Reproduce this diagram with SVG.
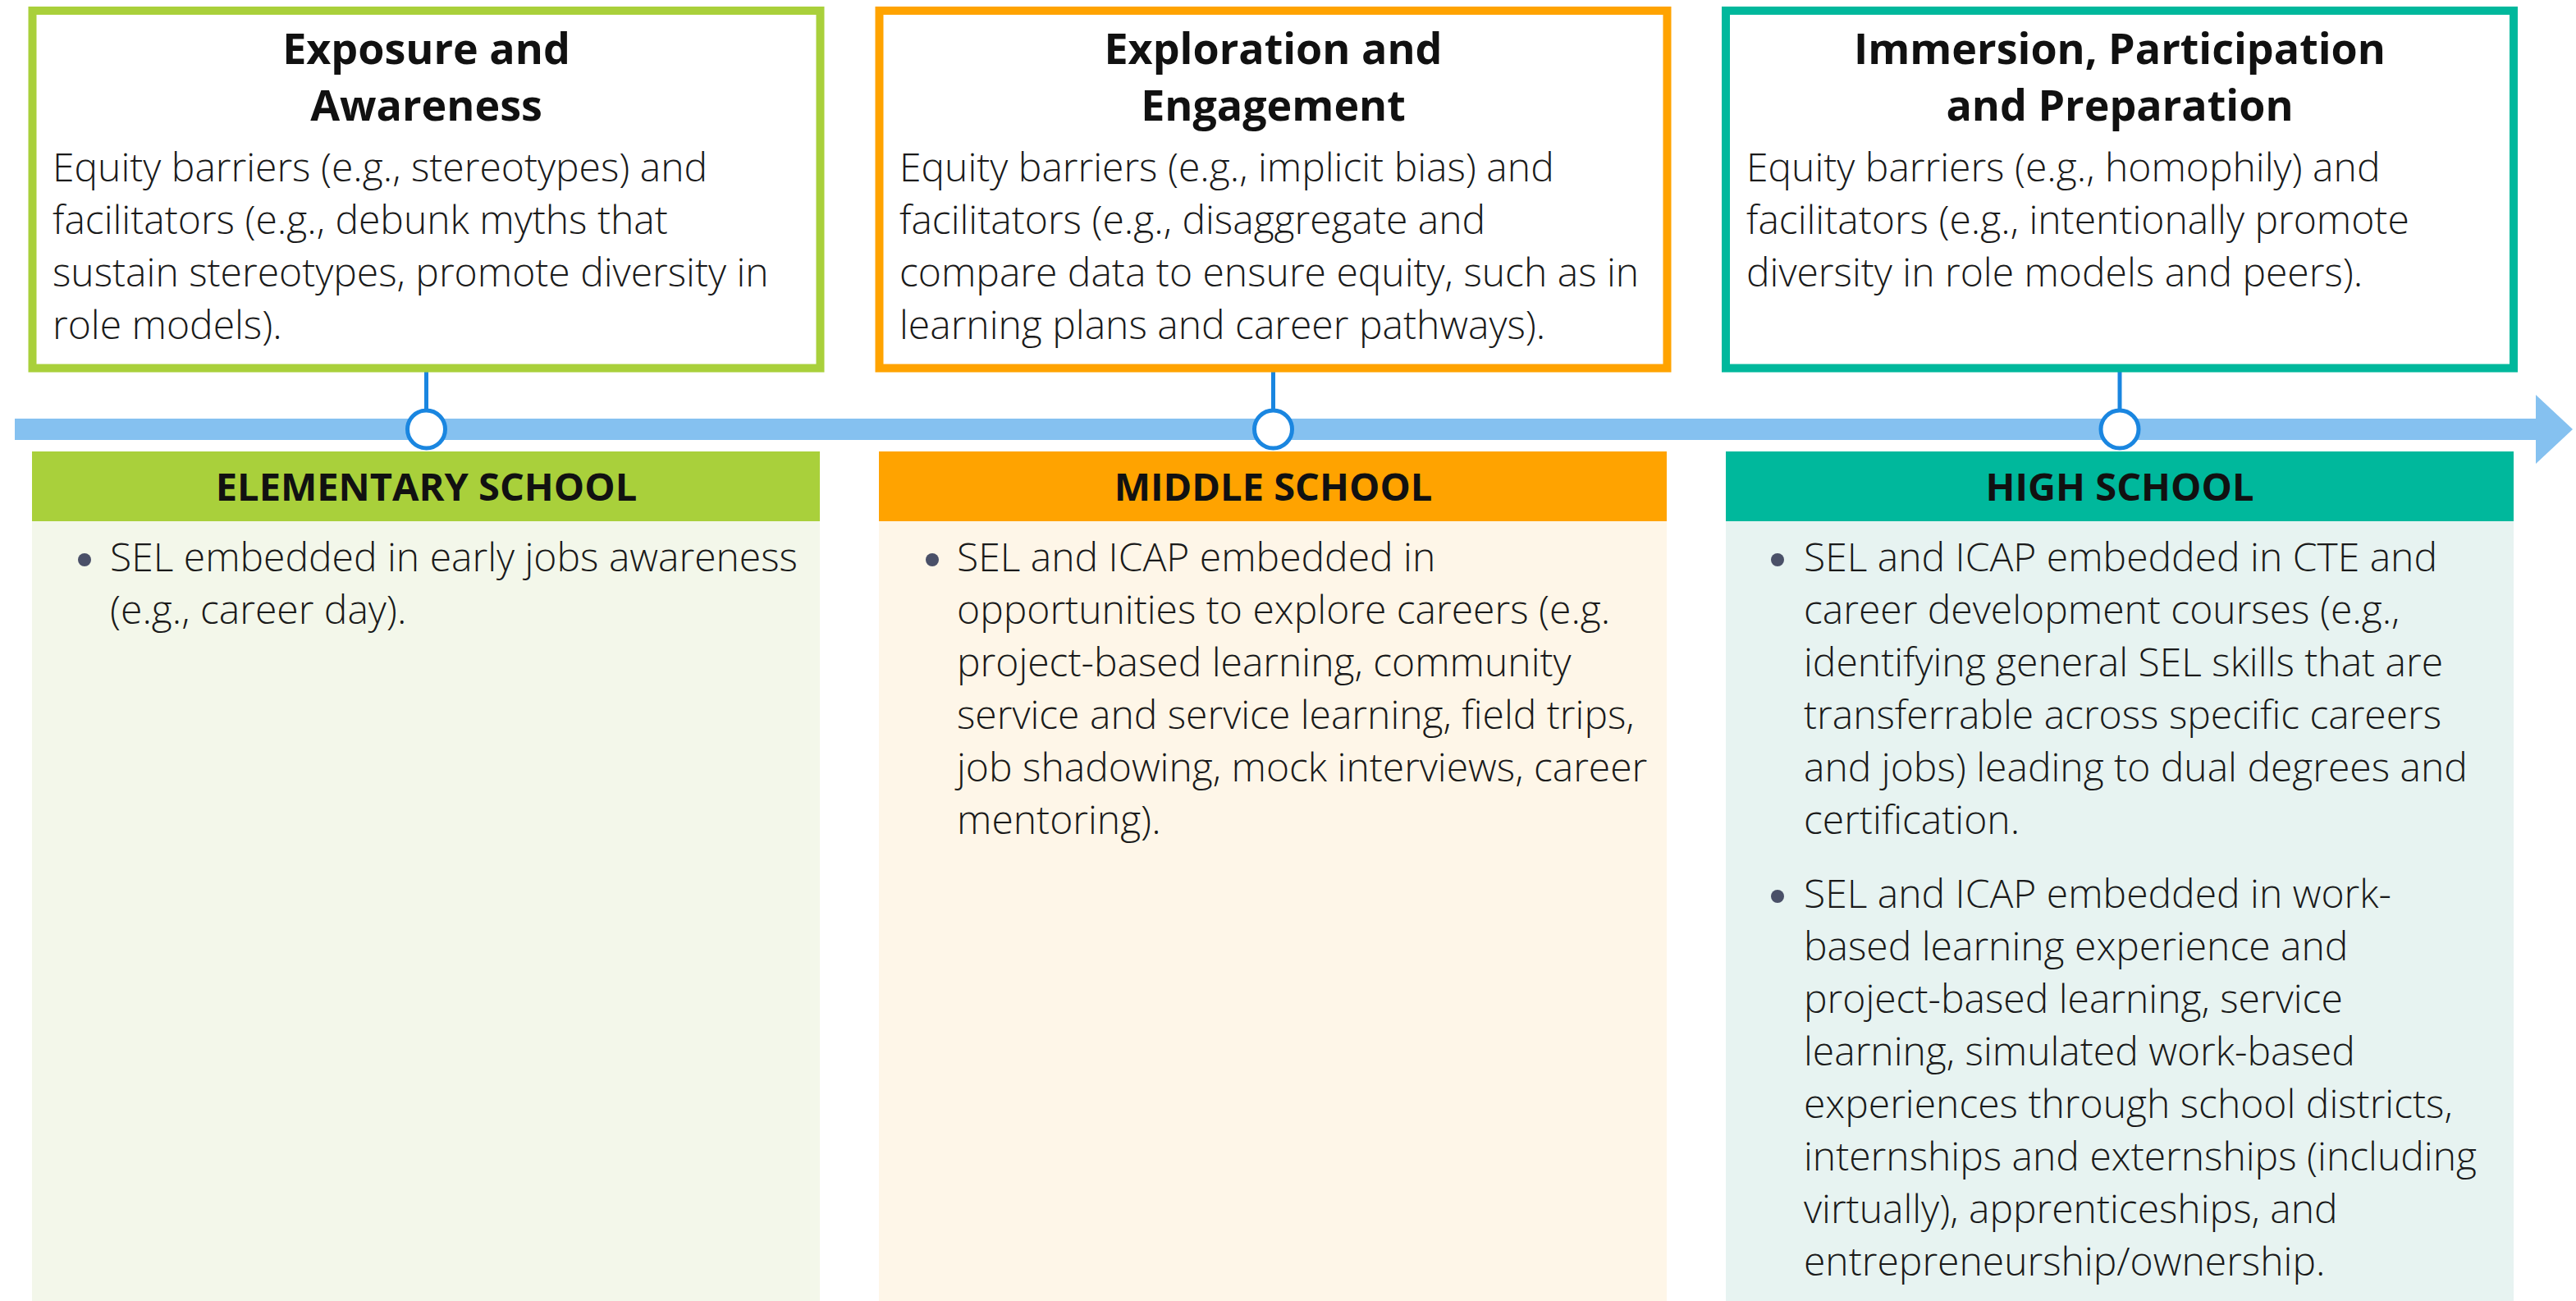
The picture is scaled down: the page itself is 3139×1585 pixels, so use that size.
<svg xmlns="http://www.w3.org/2000/svg" width="3139" height="1585" viewBox="0 0 3139 1585">
<style>
text{font-family:"Open Sans","Noto Sans","Liberation Sans",sans-serif;}
.title{font-size:52px;font-weight:700;fill:#111;text-anchor:middle;}
.body{font-size:48px;font-weight:300;fill:#1a1a1a;}
.hdr{font-size:47px;font-weight:700;fill:#111;text-anchor:middle;}
.box{fill:#fff;stroke-width:10;}
.conn{stroke:#1a86e0;stroke-width:5;fill:none;}
.dot{fill:#fff;stroke:#1a86e0;stroke-width:5;}
.bul{fill:#4a5068;}
</style>
<g id="timeline">
<rect x="18" y="510" width="3073" height="26" fill="#85c1f0"/>
<polygon points="3090,481 3135,523 3090,565" fill="#85c1f0"/>
</g>
<g id="connectors">
<line class="conn" x1="519.5" y1="453" x2="519.5" y2="500"/>
<line class="conn" x1="1551.5" y1="453" x2="1551.5" y2="500"/>
<line class="conn" x1="2583" y1="453" x2="2583" y2="500"/>
<circle class="dot" cx="519.5" cy="523" r="23"/>
<circle class="dot" cx="1551.5" cy="523" r="23"/>
<circle class="dot" cx="2583" cy="523" r="23"/>
</g>
<g id="box-exposure">
<rect class="box" x="39.5" y="13" width="960" height="435.5" stroke="#a9d03b"/>
<text class="title" x="519.5" y="78">Exposure and</text>
<text class="title" x="519.5" y="146.5">Awareness</text>
<text class="body" x="64" y="221">Equity barriers (e.g., stereotypes) and</text>
<text class="body" x="64" y="285">facilitators (e.g., debunk myths that</text>
<text class="body" x="64" y="349">sustain stereotypes, promote diversity in</text>
<text class="body" x="64" y="413">role models).</text>
</g>
<g id="box-exploration">
<rect class="box" x="1071.5" y="13" width="960" height="435.5" stroke="#ffa300"/>
<text class="title" x="1551.5" y="78">Exploration and</text>
<text class="title" x="1551.5" y="146.5">Engagement</text>
<text class="body" x="1096" y="221">Equity barriers (e.g., implicit bias) and</text>
<text class="body" x="1096" y="285">facilitators (e.g., disaggregate and</text>
<text class="body" x="1096" y="349">compare data to ensure equity, such as in</text>
<text class="body" x="1096" y="413">learning plans and career pathways).</text>
</g>
<g id="box-immersion">
<rect class="box" x="2103" y="13" width="960" height="435.5" stroke="#00b89c"/>
<text class="title" x="2583" y="78">Immersion, Participation</text>
<text class="title" x="2583" y="146.5">and Preparation</text>
<text class="body" x="2128" y="221">Equity barriers (e.g., homophily) and</text>
<text class="body" x="2128" y="285">facilitators (e.g., intentionally promote</text>
<text class="body" x="2128" y="349">diversity in role models and peers).</text>
</g>
<g id="col-elementary">
<rect x="39" y="550" width="960" height="1035" fill="#f3f7ea"/>
<rect x="39" y="550" width="960" height="85" fill="#a9d03b"/>
<text class="hdr" x="519.5" y="610">ELEMENTARY SCHOOL</text>
<circle class="bul" cx="103" cy="682" r="8"/>
<text class="body" x="134" y="696">SEL embedded in early jobs awareness</text>
<text class="body" x="134" y="760">(e.g., career day).</text>
</g>
<g id="col-middle">
<rect x="1071" y="550" width="960" height="1035" fill="#fef6e8"/>
<rect x="1071" y="550" width="960" height="85" fill="#ffa300"/>
<text class="hdr" x="1551.5" y="610">MIDDLE SCHOOL</text>
<circle class="bul" cx="1136" cy="682" r="8"/>
<text class="body" x="1166" y="696">SEL and ICAP embedded in</text>
<text class="body" x="1166" y="760">opportunities to explore careers (e.g.</text>
<text class="body" x="1166" y="824">project-based learning, community</text>
<text class="body" x="1166" y="888">service and service learning, field trips,</text>
<text class="body" x="1166" y="952">job shadowing, mock interviews, career</text>
<text class="body" x="1166" y="1016">mentoring).</text>
</g>
<g id="col-high">
<rect x="2103" y="550" width="960" height="1035" fill="#e7f3f1"/>
<rect x="2103" y="550" width="960" height="85" fill="#00b89c"/>
<text class="hdr" x="2583" y="610">HIGH SCHOOL</text>
<circle class="bul" cx="2166" cy="682" r="8"/>
<text class="body" x="2198" y="696">SEL and ICAP embedded in CTE and</text>
<text class="body" x="2198" y="760">career development courses (e.g.,</text>
<text class="body" x="2198" y="824">identifying general SEL skills that are</text>
<text class="body" x="2198" y="888">transferrable across specific careers</text>
<text class="body" x="2198" y="952">and jobs) leading to dual degrees and</text>
<text class="body" x="2198" y="1016">certification.</text>
<circle class="bul" cx="2166" cy="1092" r="8"/>
<text class="body" x="2198" y="1106">SEL and ICAP embedded in work-</text>
<text class="body" x="2198" y="1170">based learning experience and</text>
<text class="body" x="2198" y="1234">project-based learning, service</text>
<text class="body" x="2198" y="1298">learning, simulated work-based</text>
<text class="body" x="2198" y="1362">experiences through school districts,</text>
<text class="body" x="2198" y="1426">internships and externships (including</text>
<text class="body" x="2198" y="1490">virtually), apprenticeships, and</text>
<text class="body" x="2198" y="1554">entrepreneurship/ownership.</text>
</g>
</svg>
